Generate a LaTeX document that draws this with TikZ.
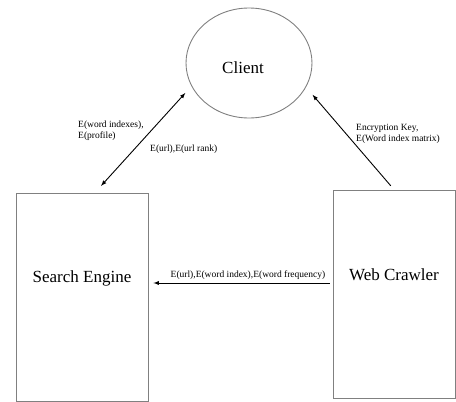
\documentclass[tikz,border=0pt]{standalone}
\usepackage{fontspec}
\setmainfont{Liberation Serif}
\usetikzlibrary{shapes.geometric,arrows}
\definecolor{boxgray}{RGB}{128,128,128}

\tikzset{
  entity/.style={draw=boxgray, line width=0.9pt, minimum width=#1, inner sep=0pt},
  bigtext/.style={font=\fontsize{17}{20}\selectfont},
  smalltext/.style={font=\fontsize{9.5}{11}\selectfont, align=left, inner sep=0pt},
  link/.style={line width=0.9pt, -latex}
}

\begin{document}
\begin{tikzpicture}[x=1pt, y=-1pt]
\useasboundingbox (0,0) rectangle (456,402);

% the three parties
\node[entity=126pt, ellipse, minimum height=110pt] (client) at (249,63) {};
\node[entity=132pt, rectangle, minimum height=208pt] (search) at (82,297) {};
\node[entity=122pt, rectangle, minimum height=208pt] (crawler) at (394,294) {};

\node[bigtext] (clienttxt) at ([xshift=-6pt,yshift=-5pt]client.center) {Client};
\node[bigtext] (searchtxt) at ([yshift=19pt]search.center) {Search Engine};
\node[bigtext] (crawlertxt) at ([yshift=19pt]crawler.center) {Web Crawler};

% messages
\draw[link, latex-latex, shorten <=9pt, shorten >=9pt] (client.202) -- ([xshift=13pt]search.north);
\draw[link, shorten <=5pt, shorten >=10pt] (crawler.north) -- (client.337);
\draw[link, shorten <=3pt, shorten >=5pt] ([yshift=11pt]crawler.west) -- ([yshift=11pt]crawler.west -| search.east);

\node[smalltext, anchor=west] (wordlbl) at (78,130.5) {E(word indexes),\\E(profile)};
\node[smalltext, anchor=west] (urllbl) at (150,149) {E(url),E(url rank)};
\node[smalltext, anchor=west] (keylbl) at (356,133.5) {Encryption Key,\\E(Word index matrix)};
\node[smalltext] (freqlbl) at (248,275) {E(url),E(word index),E(word frequency)};
\end{tikzpicture}
\end{document}
